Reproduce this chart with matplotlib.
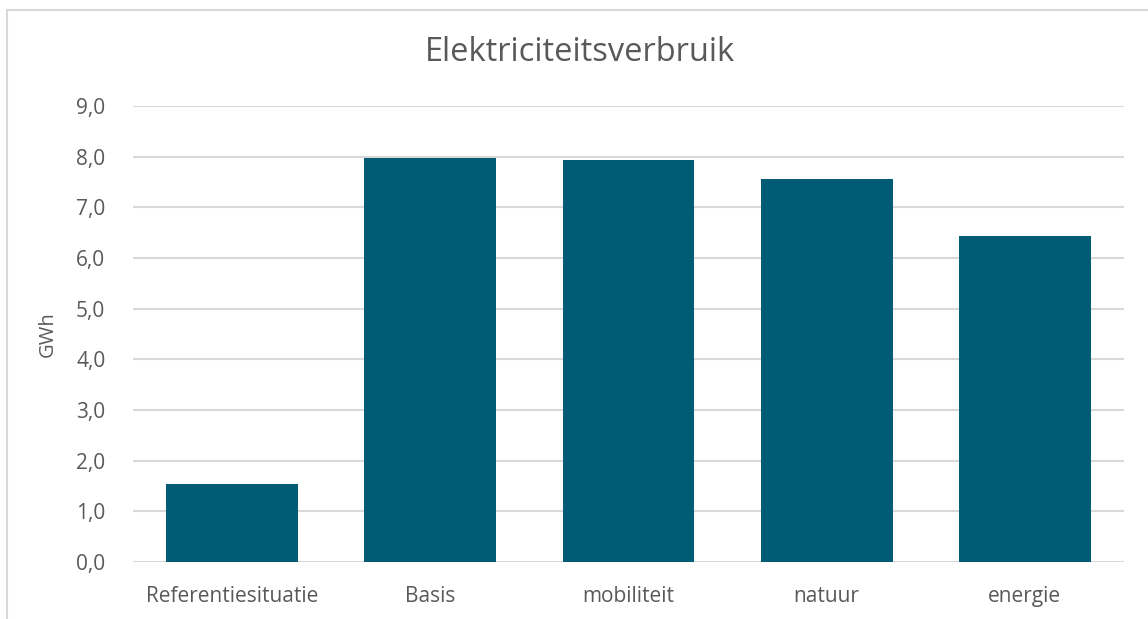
from matplotlib import pyplot as plt
from matplotlib.lines import Line2D
from matplotlib.ticker import FuncFormatter
import numpy as np

# Chart data
categories=['Referentiesituatie','Basis','mobiliteit','natuur','energie']
values=[1.53,7.97,7.94,7.55,6.43]
yticks=[0,1,2,3,4,5,6,7,8,9]

plt.rcParams['font.family']=['Open Sans','DejaVu Sans']
grey='#595959'

fig=plt.figure(figsize=(11.48,6.19),dpi=100)
ax=fig.add_axes([0.1159,0.0921,0.8631,0.7367])

x=np.arange(len(categories))
ax.bar(x,values,width=0.665,color='#005C75',zorder=3)

ax.set_xlim(-0.5,len(categories)-0.5)
ax.set_ylim(0,9)
ax.set_yticks(yticks)
ax.yaxis.set_major_formatter(FuncFormatter(lambda v,p: ('%.1f'%v).replace('.',',')))
ax.set_xticks(x)
ax.set_xticklabels(categories)
ax.grid(axis='y',color='#d9d9d9',linewidth=1.5,zorder=0)
for s in ax.spines.values():
    s.set_visible(False)
ax.tick_params(length=0,labelsize=15,colors=grey)
ax.tick_params(axis='x',pad=17)
ax.tick_params(axis='y',pad=20)
ax.set_ylabel('GWh',fontsize=14.5,color=grey,labelpad=13)

fig.text(0.505,0.915,'Elektriciteitsverbruik',fontsize=23.5,color=grey,ha='center',va='center')

# Chart frame (top and left edges visible)
fig.add_artist(Line2D([7/1148,1.0],[1-10/619,1-10/619],color='#d9d9d9',linewidth=1.5))
fig.add_artist(Line2D([7/1148,7/1148],[1-10/619,0],color='#d9d9d9',linewidth=1.5))

fig.savefig('out.png',dpi=100)
